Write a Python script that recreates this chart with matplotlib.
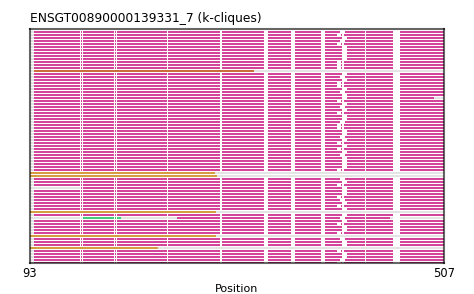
import numpy as np
import matplotlib.pyplot as plt

# --------------------------------------------------
# k-clique membership along the alignment
# --------------------------------------------------

title = "ENSGT00890000139331_7 (k-cliques)"
x_start, x_end = 93, 507
n_rows = 78

colors = {
    "m": "#d4449a",   # main clique
    "o": "#cc6e3c",   # orange clique
    "y": "#d69c42",   # gold clique
    "g": "#44cc7c",   # green clique
}
gray = "#e4e4e4"

# default: main clique, starts at 97 (grey stub before)
default_span = [("m", 97, 507)]

# rows that differ from the default: list of (clique, start, end)
special_rows = {
    13: [("o", 97, 317)],
    22: [("m", 97, 497)],
    47: [("y", 93, 278)],
    48: [("y", 93, 280)],
    52: [("m", 144, 507)],
    60: [("y", 93, 279)],
    62: [("g", 146, 184), ("m", 240, 453)],
    68: [("y", 93, 279)],
    72: [("y", 93, 221)],
}

# rows with no alignment gaps drawn in the coloured part
gapless_rows = [13, 47, 48, 60, 68, 72]

# alignment gaps shared by the main clique rows
common_gaps = [(142.5, 143.5), (144.5, 145.5), (176.5, 177.5), (178.5, 180),
               (229.5, 230.5), (282.5, 285), (327, 331), (354, 358),
               (384, 388), (428, 429), (456, 463)]

# variable gap around 400-410
var_gaps = {
    "a": [(405, 410)],
    "b": [(400, 404), (405, 406.5)],
    "c": [(403, 408)],
}
var_pattern = ("cbacbaaaaabbb" "aacabbacaabac" "abaacbbaacaba"
               "bacaaaabbacab" "aaabcabaaacab" "aabacaabbaacb")

fig = plt.figure(figsize=(4.74, 2.94), dpi=100)
ax = fig.add_axes([30 / 474, (294 - 263) / 294, 414 / 474, 234 / 294])

h = 2 / 3
for i in range(n_rows):
    segs = special_rows.get(i, default_span)
    # grey background for the whole row
    ax.broken_barh([(x_start, x_end - x_start)], (i - h / 2, h),
                   facecolors=gray, linewidth=0, antialiased=False)
    for c, s, e in segs:
        ax.broken_barh([(s, e - s)], (i - h / 2, h),
                       facecolors=colors[c], linewidth=0, antialiased=False)
    if i in gapless_rows:
        continue
    gaps = common_gaps + var_gaps[var_pattern[i]]
    ax.broken_barh([(s, e - s) for s, e in gaps], (i - h / 2, h),
                   facecolors="white", linewidth=0, antialiased=False)

ax.set_xlim(x_start, x_end)
ax.set_ylim(n_rows - 1, -1)
ax.set_yticks([])
ax.set_xticks([x_start, x_end])
ax.set_xticklabels([str(x_start), str(x_end)], fontsize=8.3)
ax.tick_params(axis="x", length=0, pad=3)
ax.set_xlabel("Position", fontsize=8, labelpad=3)
ax.set_title(title, loc="left", fontsize=8.8, pad=5)

for sp in ax.spines.values():
    sp.set_edgecolor((0, 0, 0, 0.6))
    sp.set_linewidth(1.5)

fig.savefig("out.png", dpi=100)
